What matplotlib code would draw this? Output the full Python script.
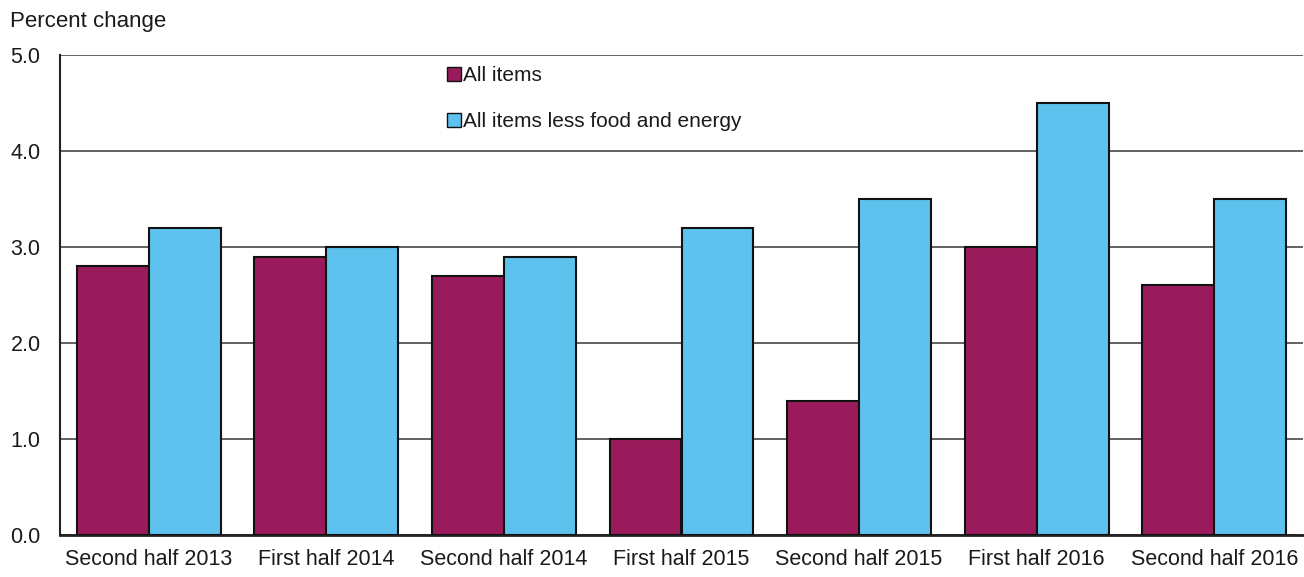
import matplotlib
matplotlib.use("Agg")
import matplotlib.pyplot as plt
import numpy as np

categories = ["Second half 2013", "First half 2014", "Second half 2014", "First half 2015",
              "Second half 2015", "First half 2016", "Second half 2016"]
all_items = [2.8, 2.9, 2.7, 1.0, 1.4, 3.0, 2.6]
core_items = [3.2, 3.0, 2.9, 3.2, 3.5, 4.5, 3.5]
series_names = ["All items", "All items less food and energy"]
yticks = [0.0, 1.0, 2.0, 3.0, 4.0, 5.0]

plt.rcParams['font.family'] = ['Liberation Sans', 'DejaVu Sans']

W, H = 1304, 577
fig = plt.figure(figsize=(W / 100, H / 100), dpi=100)
ax = fig.add_axes([60 / W, 1 - 535 / H, (1303 - 60) / W, (535 - 55) / H])

x = np.arange(len(categories))
bw = 0.405
c1 = '#9a1b5c'
c2 = '#5ec2ee'
ax.bar(x - bw / 2, all_items, bw, color=c1, edgecolor='#111111', linewidth=1.5,
       label=series_names[0], zorder=3)
ax.bar(x + bw / 2, core_items, bw, color=c2, edgecolor='#111111', linewidth=1.5,
       label=series_names[1], zorder=3)

ax.set_xlim(-0.5, len(categories) - 0.5)
ax.set_ylim(0, 5.0)
ax.set_yticks(yticks)
ax.set_yticklabels([f"{v:.1f}" for v in yticks])
ax.set_xticks(x)
ax.set_xticklabels(categories)
ax.tick_params(axis='y', length=0, pad=14, labelsize=15.5, colors='#1a1a1a')
ax.tick_params(axis='x', length=0, pad=10, labelsize=15.5, colors='#1a1a1a')

ax.yaxis.grid(True, color='#555555', linewidth=1.3, zorder=1)
ax.set_axisbelow(True)
for s in ['top', 'right']:
    ax.spines[s].set_visible(False)
ax.spines['left'].set_color('#222222')
ax.spines['left'].set_linewidth(1.5)
ax.spines['bottom'].set_color('#222222')
ax.spines['bottom'].set_linewidth(2)

fig.text(10 / W, 1 - 21 / H, "Percent change", fontsize=16, color='#1a1a1a',
         ha='left', va='center')

leg = ax.legend(loc='upper left', bbox_to_anchor=(447 / W, 1 - 66 / H),
                bbox_transform=fig.transFigure, frameon=False, fontsize=15,
                handlelength=0.65, handleheight=0.65, handletextpad=0.1,
                labelspacing=1.3, borderpad=0, borderaxespad=0)
for h in leg.legend_handles:
    h.set_linewidth(1.0)
for t in leg.get_texts():
    t.set_color('#1a1a1a')

fig.savefig("out.png", dpi=100, facecolor='white')
